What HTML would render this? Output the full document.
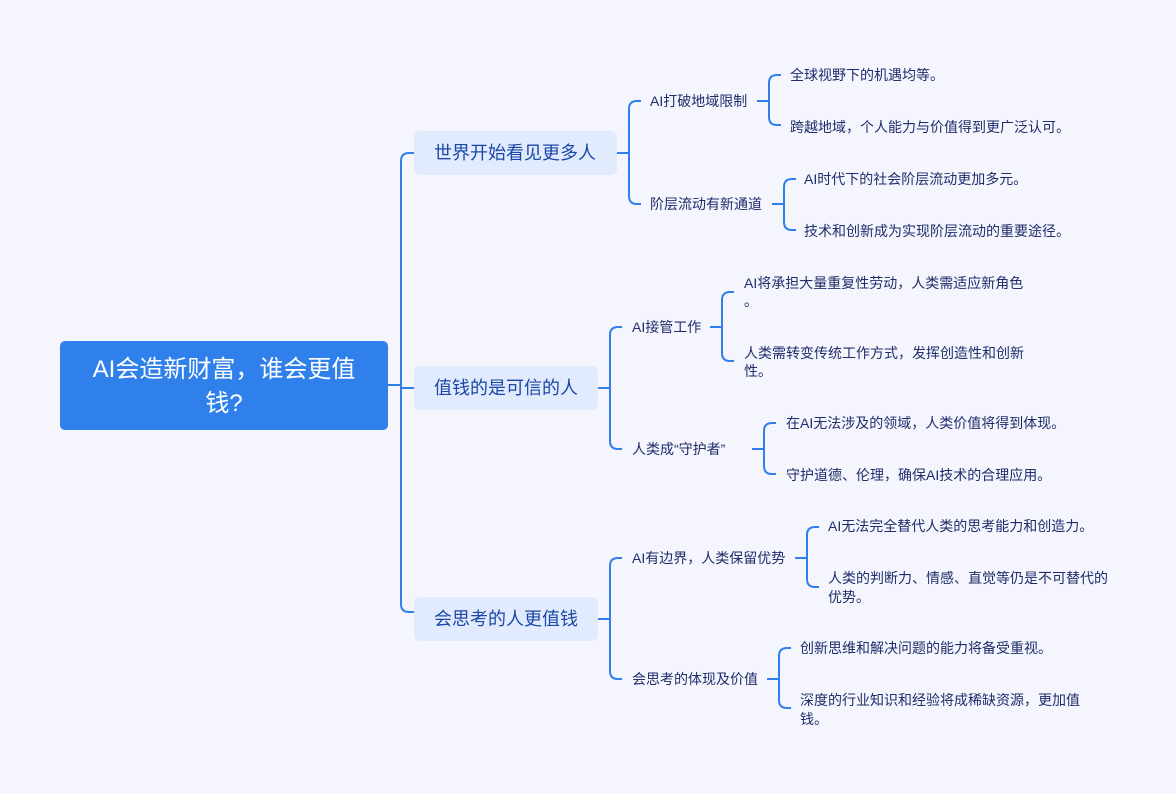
<!DOCTYPE html>
<html><head><meta charset="utf-8"><style>
html,body{margin:0;padding:0;background:#f4f5fd;}
svg{display:block;font-family:"Liberation Sans","Noto Sans CJK SC",sans-serif;}
.l{fill:none;stroke:#2f7fec;stroke-width:2;}
.t{fill:#1f2d6b;font-size:14px;}
.m{fill:#1a48a8;font-size:18px;}
</style></head><body>
<svg width="1176" height="794" viewBox="0 0 1176 794">
<path class="l" d="M388,385 H401 M414,153 H409 Q401,153 401,161 V604 Q401,612 409,612 H414 M401,388 H414"/>
<path class="l" d="M617,153 H629 M641,101 H637 Q629,101 629,109 V196 Q629,204 637,204 H641"/>
<path class="l" d="M757,101 H769 M777,75 Q769,75 769,83 V117 Q769,125 777,125 H781 M781,75 H777"/>
<path class="l" d="M772,204 H784 M796,179 H792 Q784,179 784,187 V222 Q784,230 792,230 H796"/>
<path class="l" d="M598,388 H610 M622,327 H618 Q610,327 610,335 V441 Q610,449 618,449 H622"/>
<path class="l" d="M710,327 H722 M734,292 H730 Q722,292 722,300 V353 Q722,361 730,361 H734"/>
<path class="l" d="M752,449 H764 M776,423 H772 Q764,423 764,431 V466 Q764,474 772,474 H776"/>
<path class="l" d="M598,619 H610 M622,558 H618 Q610,558 610,566 V671 Q610,679 618,679 H622"/>
<path class="l" d="M795,558 H807 M819,527 H815 Q807,527 807,535 V579 Q807,587 815,587 H819"/>
<path class="l" d="M767,679 H779 M791,648 H787 Q779,648 779,656 V700 Q779,708 787,708 H791"/>
<rect x="60" y="341" width="328" height="89" rx="5" fill="#3080eb"/>
<text x="224" y="377" fill="#fff" font-size="24" text-anchor="middle">AI会造新财富，谁会更值</text>
<text x="224" y="411" fill="#fff" font-size="24" text-anchor="middle">钱?</text>
<rect x="414" y="131" width="203" height="44" rx="6" fill="#e2eafd"/>
<text class="m" x="515" y="159" text-anchor="middle">世界开始看见更多人</text>
<rect x="414" y="366" width="184" height="44" rx="6" fill="#e2eafd"/>
<text class="m" x="506" y="394" text-anchor="middle">值钱的是可信的人</text>
<rect x="414" y="597" width="184" height="44" rx="6" fill="#e2eafd"/>
<text class="m" x="506" y="625" text-anchor="middle">会思考的人更值钱</text>
<text class="t" x="650" y="106">AI打破地域限制</text>
<text class="t" x="650" y="209">阶层流动有新通道</text>
<text class="t" x="632" y="332">AI接管工作</text>
<text class="t" x="632" y="454">人类成“守护者”</text>
<text class="t" x="632" y="563">AI有边界，人类保留优势</text>
<text class="t" x="632" y="684">会思考的体现及价值</text>
<text class="t" x="790" y="80">全球视野下的机遇均等。</text>
<text class="t" x="790" y="132">跨越地域，个人能力与价值得到更广泛认可。</text>
<text class="t" x="804" y="184">AI时代下的社会阶层流动更加多元。</text>
<text class="t" x="804" y="236">技术和创新成为实现阶层流动的重要途径。</text>
<text class="t" x="744" y="288">AI将承担大量重复性劳动，人类需适应新角色</text>
<text class="t" x="744" y="306">。</text>
<text class="t" x="744" y="358">人类需转变传统工作方式，发挥创造性和创新</text>
<text class="t" x="744" y="376">性。</text>
<text class="t" x="786" y="428">在AI无法涉及的领域，人类价值将得到体现。</text>
<text class="t" x="786" y="480">守护道德、伦理，确保AI技术的合理应用。</text>
<text class="t" x="828" y="531">AI无法完全替代人类的思考能力和创造力。</text>
<text class="t" x="828" y="583">人类的判断力、情感、直觉等仍是不可替代的</text>
<text class="t" x="828" y="602">优势。</text>
<text class="t" x="800" y="653">创新思维和解决问题的能力将备受重视。</text>
<text class="t" x="800" y="705">深度的行业知识和经验将成稀缺资源，更加值</text>
<text class="t" x="800" y="724">钱。</text>
</svg>
</body></html>
